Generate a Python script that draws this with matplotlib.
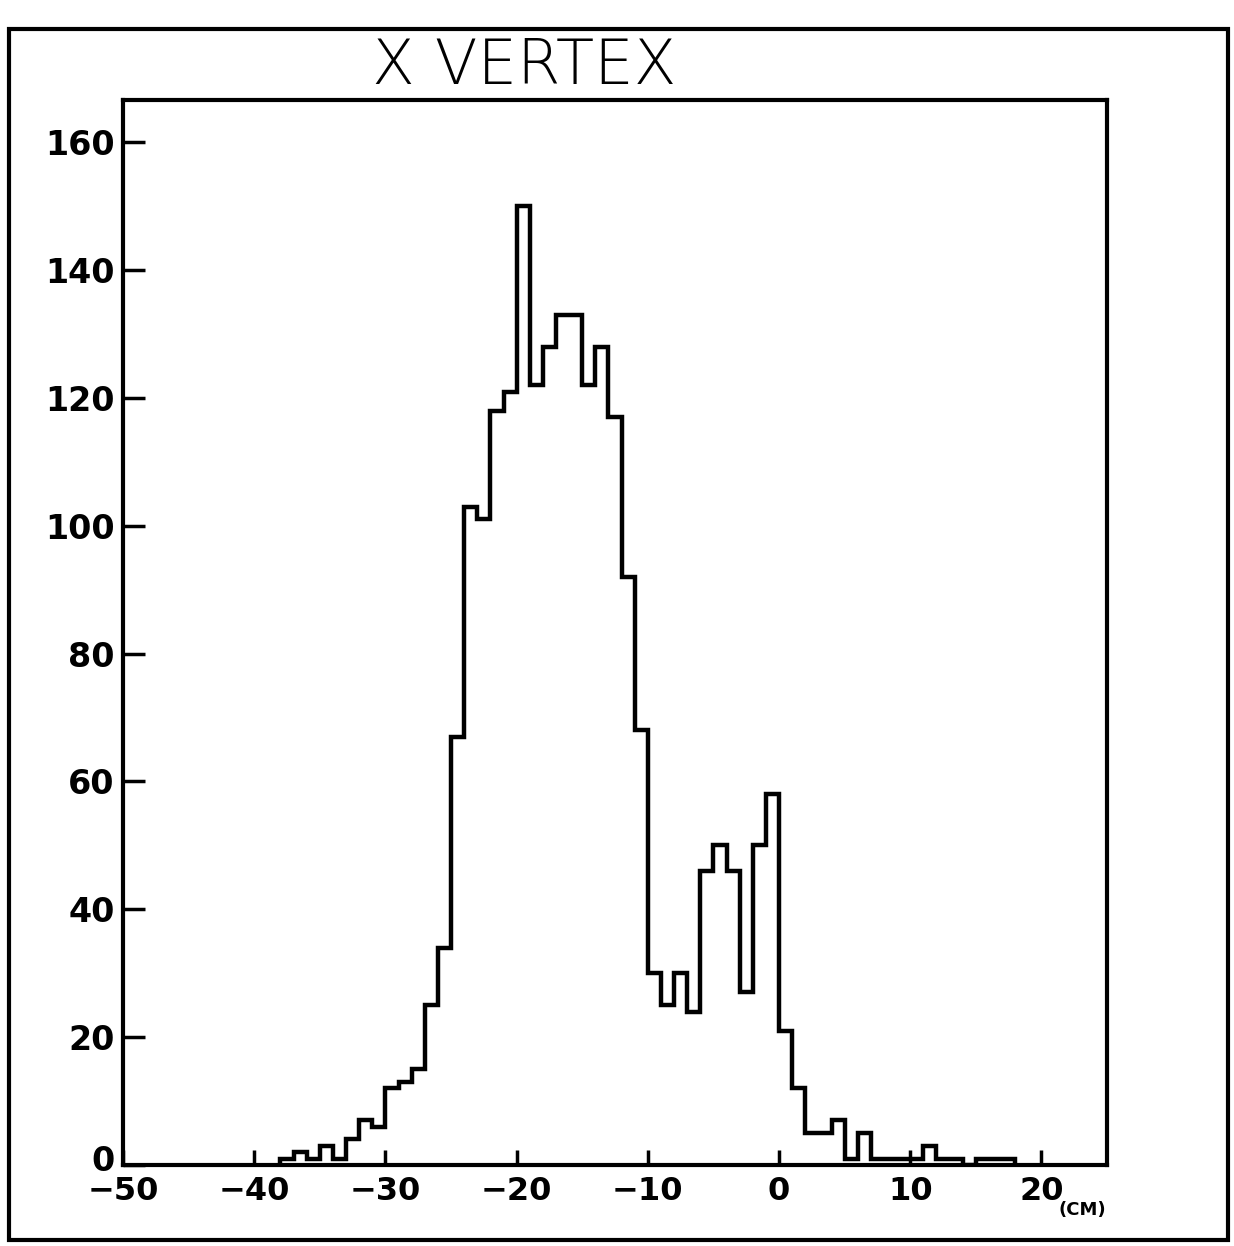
import matplotlib
matplotlib.use("Agg")
import matplotlib.pyplot as plt
import matplotlib.transforms as mtransforms
from matplotlib.patches import Rectangle

# ---- data ----
bin_edges = [-38, -37, -36, -35, -34, -33, -32, -31, -30, -29, -28, -27, -26, -25,
             -24, -23, -22, -21, -20, -19, -18, -17, -16, -15, -14, -13, -12, -11,
             -10, -9, -8, -7, -6, -5, -4, -3, -2, -1, 0, 1, 2, 3, 4, 5, 6, 7, 8,
             9, 10, 11, 12, 13, 14, 15, 16, 17, 18]
counts = [1, 2, 1, 3, 1, 4, 7, 6, 12, 13, 15, 25, 34, 67,
          103, 101, 118, 121, 150, 122, 128, 133, 133, 122, 128, 117, 92, 68,
          30, 25, 30, 24, 46, 50, 46, 27, 50, 58, 21, 12, 5, 5, 7, 1, 5, 1, 1,
          1, 1, 3, 1, 1, 0, 1, 1, 1]
x_ticks = [-50, -40, -30, -20, -10, 0, 10, 20]
x_tick_labels = ["\u221250", "\u221240", "\u221230", "\u221220", "\u221210", "0", "10", "20"]
y_ticks = [0, 20, 40, 60, 80, 100, 120, 140, 160]
y_tick_labels = ["0", "20", "40", "60", "80", "100", "120", "140", "160"]
title = "X VERTEX"
unit_label = "(CM)"

plt.rcParams['font.family'] = ['DejaVu Sans']

fig = plt.figure(figsize=(12.34, 12.46), dpi=100)
ax = fig.add_axes([0.0997, 0.065, 0.7974, 0.8547])

ax.stairs(counts, bin_edges, color='black', linewidth=3.2, baseline=0)

ax.set_xlim(-50, 25)
ax.set_ylim(0, 166.6)

ax.set_xticks(x_ticks)
ax.set_xticklabels(x_tick_labels, fontsize=23, fontweight='semibold')
ax.set_yticks(y_ticks)
ax.set_yticklabels(y_tick_labels, fontsize=24, fontweight='semibold')
ax.tick_params(axis='x', direction='in', length=11, width=2.5, pad=8)
ax.tick_params(axis='y', direction='in', length=16, width=2.5, pad=6)

# lift the y "0" label slightly so it sits above the "-50" label
lift = mtransforms.ScaledTranslation(0, 7 / 100, fig.dpi_scale_trans)
zero_lbl = ax.get_yticklabels()[0]
zero_lbl.set_transform(zero_lbl.get_transform() + lift)

for s in ax.spines.values():
    s.set_linewidth(3)
    s.set_color('black')

# title
fig.text(0.425, 0.946, title, ha='center', va='center', fontsize=45,
         fontweight='light')
# unit label
fig.text(0.877, 0.029, unit_label, ha='center', va='center', fontsize=13,
         fontweight='bold')

# outer frame around the figure
fig.patches.append(Rectangle((0.007, 0.005), 0.988, 0.972, transform=fig.transFigure,
                             fill=False, linewidth=3, edgecolor='black'))

fig.savefig("out.png", dpi=100)
